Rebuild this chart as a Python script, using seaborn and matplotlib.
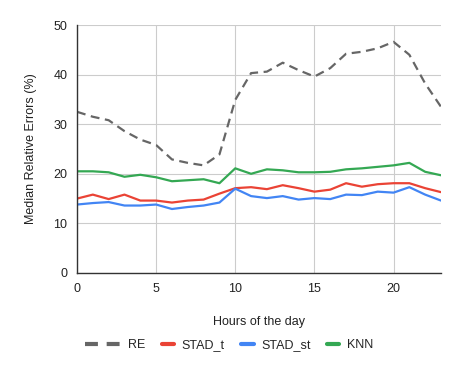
import pandas as pd
import matplotlib.pyplot as plt
import seaborn as sns
from matplotlib.legend_handler import HandlerLine2D

hours = list(range(24))
re_vals = [32.5, 31.5, 30.8, 28.6, 26.9, 25.8, 22.9, 22.2, 21.7, 23.9, 34.9, 40.3,
           40.6, 42.4, 40.9, 39.6, 41.3, 44.2, 44.6, 45.3, 46.6, 44.0, 38.2, 33.5]
stad_t = [15.0, 15.8, 14.9, 15.8, 14.6, 14.6, 14.2, 14.6, 14.8, 16.0, 17.1, 17.3,
          16.9, 17.7, 17.1, 16.4, 16.8, 18.1, 17.4, 17.9, 18.1, 18.1, 17.1, 16.3]
stad_st = [13.8, 14.1, 14.3, 13.6, 13.6, 13.8, 12.9, 13.3, 13.6, 14.2, 17.0, 15.5,
           15.1, 15.5, 14.8, 15.1, 14.9, 15.8, 15.7, 16.4, 16.2, 17.3, 15.8, 14.6]
knn = [20.5, 20.5, 20.3, 19.4, 19.8, 19.3, 18.5, 18.7, 18.9, 18.1, 21.1, 20.0,
       20.9, 20.7, 20.3, 20.3, 20.4, 20.9, 21.1, 21.4, 21.7, 22.2, 20.4, 19.7]

series = {"RE": re_vals, "STAD_t": stad_t, "STAD_st": stad_st, "KNN": knn}
rows = []
for name, vals in series.items():
    for h, v in zip(hours, vals):
        rows.append({"hour": h, "error": v, "method": name})
df = pd.DataFrame(rows)

sns.set_style("white")
plt.rcParams['font.family'] = ['Liberation Sans', 'DejaVu Sans']

palette = {"RE": "#666666", "STAD_t": "#ea4335", "STAD_st": "#4285f4", "KNN": "#34a853"}
dashes = {"RE": (4, 2.5), "STAD_t": "", "STAD_st": "", "KNN": ""}


class WideHandler(HandlerLine2D):
    # legend key for the dashed series reaches further left
    def create_artists(self, legend, orig_handle, xdescent, ydescent, width,
                       height, fontsize, trans):
        extra = 16.5
        return super().create_artists(legend, orig_handle, xdescent + extra, ydescent,
                                      width + extra, height, fontsize, trans)


fig = plt.figure(figsize=(4.6, 3.71), dpi=100)
ax = fig.add_axes([0.1674, 0.2642, 0.7913, 0.6684])
sns.lineplot(data=df, x="hour", y="error", hue="method", style="method",
             palette=palette, dashes=dashes, linewidth=1.6, ax=ax, legend=True)

ax.set_xlim(0, 23)
ax.set_ylim(0, 50)
ax.set_xticks([0, 5, 10, 15, 20])
ax.set_yticks([0, 10, 20, 30, 40, 50])
ax.grid(True, color="#cccccc", linewidth=0.8)
ax.set_axisbelow(True)
for s in ["top", "right"]:
    ax.spines[s].set_visible(False)
for s in ["left", "bottom"]:
    ax.spines[s].set_color("#333333")
    ax.spines[s].set_linewidth(1.0)
ax.tick_params(axis="both", length=0, labelsize=9, colors="#222222", pad=7)
ax.set_xlabel("Hours of the day", fontsize=9, color="#222222", labelpad=15)
ax.set_ylabel("Median Relative Errors (%)", fontsize=9, color="#222222", labelpad=12)

handles, labels = ax.get_legend_handles_labels()
leg = ax.legend(handles, labels, loc="center", bbox_to_anchor=(0.45, -0.29),
                ncol=4, frameon=False, fontsize=9, handlelength=1.0,
                columnspacing=1.3, handletextpad=0.6,
                handler_map={handles[0]: WideHandler()})
for line in leg.get_lines():
    line.set_linewidth(3.0)
leg.get_lines()[0].set_dashes((3.1, 2.1))

fig.savefig("out.png", dpi=100)
